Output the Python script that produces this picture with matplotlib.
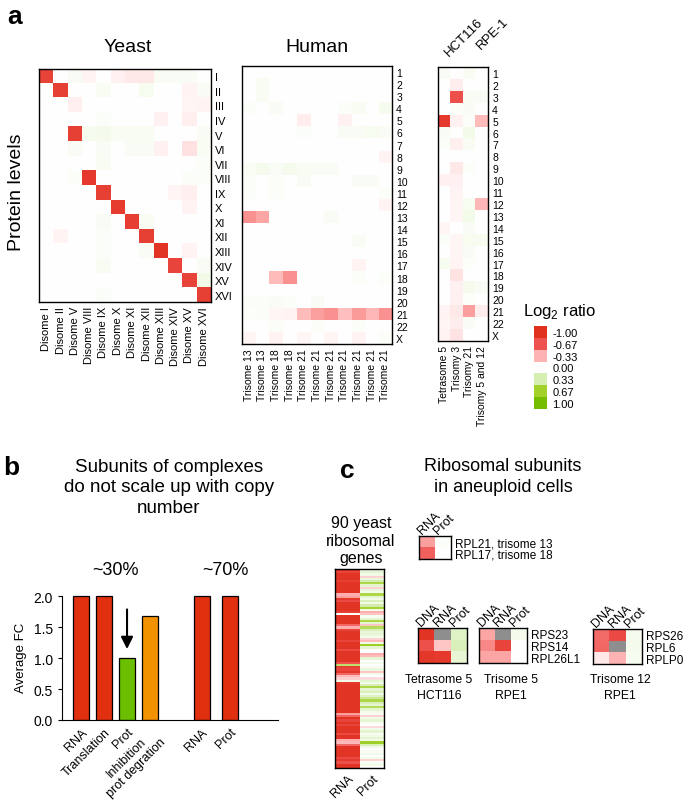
import numpy as np
import matplotlib
matplotlib.use('Agg')
import matplotlib.pyplot as plt
from matplotlib.colors import LinearSegmentedColormap, Normalize

plt.rcParams['font.family'] = ['Liberation Sans', 'DejaVu Sans']

W, H = 685, 803

def box(x0, y0, x1, y1):
    # pixel box (from top-left) -> figure fraction
    return [x0 / W, 1 - y1 / H, (x1 - x0) / W, (y1 - y0) / H]

def ftext(x, y, s, **kw):
    fig.text(x / W, 1 - y / H, s, **kw)

# colour scale (log2 ratio)
legend_vals = [-1.00, -0.67, -0.33, 0.00, 0.33, 0.67, 1.00]
legend_cols = ['#e0301e', '#ef5350', '#ffb4b4', '#ffffff', '#d6efb4', '#a4d22c', '#74bd00']
cmap = LinearSegmentedColormap.from_list(
    'log2', [((v + 1) / 2, c) for v, c in zip(legend_vals, legend_cols)])
cmap.set_bad('#8e8e8e')
norm = Normalize(-1, 1)

# ---- panel a: yeast
yeast_rows = ['I', 'II', 'III', 'IV', 'V', 'VI', 'VII', 'VIII', 'IX', 'X',
              'XI', 'XII', 'XIII', 'XIV', 'XV', 'XVI']
yeast_cols = ['Disome I', 'Disome II', 'Disome V', 'Disome VIII', 'Disome IX',
              'Disome X', 'Disome XI', 'Disome XII', 'Disome XIII', 'Disome XIV',
              'Disome XV', 'Disome XVI']
yeast_vals = [
    [-0.82, 0, 0.04, -0.05, 0, -0.06, -0.1, -0.1, 0.04, 0.04, 0.04, 0],
    [0, -0.85, 0, 0, 0.05, 0, 0, 0.06, 0, 0, -0.05, 0.04],
    [0, 0, -0.07, 0, 0, 0, 0, 0, 0, 0, -0.04, -0.05],
    [0, 0, 0, 0, 0.03, 0, 0, 0, -0.06, 0, -0.07, 0],
    [0, 0, -0.85, 0.07, 0.08, 0.05, 0.05, 0.05, 0, 0, 0, 0.04],
    [0, 0, 0.04, 0, 0.04, 0, 0.04, 0.04, -0.06, 0, -0.13, 0.05],
    [0, 0, 0, 0, 0.05, 0, 0, 0, 0, 0, 0, 0.03],
    [0, 0, 0.03, -0.9, 0, 0, 0, 0, 0, 0, 0.03, 0.03],
    [0, 0, 0, 0, -0.85, 0, 0, 0, 0, -0.04, -0.07, 0],
    [0, 0, 0, 0, 0, -0.88, 0, 0, 0, 0, -0.05, 0],
    [0, 0, 0, 0, 0.04, 0, -0.86, 0.05, 0, 0, 0, 0],
    [0, -0.05, 0, 0, 0.03, 0, 0, -0.85, 0, 0, 0, 0],
    [0, 0, 0, 0, 0.03, 0, 0, 0.04, -0.95, 0, -0.05, 0],
    [0, 0, 0, 0, 0.05, 0, 0, 0, 0, -0.8, 0, 0.04],
    [0, 0, 0, 0, 0, 0, 0, 0, 0, 0, -0.82, 0.1],
    [0, 0, 0, 0, 0.03, 0, 0, 0, 0, 0, 0, -0.85],
]

# ---- panel a: human
human_rows = [str(i) for i in range(1, 23)] + ['X']
human_cols = ['Trisome 13', 'Trisome 13', 'Trisome 18', 'Trisome 18'] + ['Trisome 21'] * 7
human_vals = [
    [0, 0, 0, 0, 0, 0, 0, 0, 0, 0, 0],
    [0, 0.05, 0, 0, 0, 0, 0, 0, 0, 0, 0],
    [0, 0.05, 0, 0, 0, 0, 0, 0, 0, 0, 0],
    [0.03, 0, 0.04, 0, 0, 0, 0, 0.03, 0.05, 0, 0.07],
    [0, 0, 0, 0, -0.08, 0, 0, -0.06, 0, 0, 0],
    [0, 0, 0, 0, 0.03, 0, 0, 0.04, 0.04, 0.06, 0.04],
    [0, 0, 0, 0, 0, 0, 0, 0, 0, 0, 0],
    [0, 0, 0, 0, 0, 0, 0, 0, 0, 0, -0.05],
    [0.05, 0.08, 0.04, 0.08, 0.05, 0.04, 0.04, 0, 0, 0, 0],
    [0.03, 0, 0.03, 0, 0.04, 0, 0, 0, 0.04, 0.04, 0],
    [0.03, 0, 0.03, 0, 0, 0, 0, 0, 0, 0, 0.03],
    [0, 0, 0, 0, 0, 0, 0, 0, 0, 0, -0.05],
    [-0.45, -0.38, 0, 0, 0, 0, 0.04, 0, 0, 0, 0],
    [0, 0, 0, 0, 0, 0, 0, 0, 0, 0, 0],
    [0, 0, 0, 0, 0, 0, 0, 0, 0.04, 0, 0],
    [0, 0, 0, 0, 0, 0, 0, 0, 0, 0, 0],
    [0, 0, 0, 0, 0, 0, 0, 0, -0.05, 0, 0],
    [0, 0, -0.3, -0.45, 0, 0, 0, 0, 0.03, 0, 0.03],
    [0, 0, 0, 0, 0, 0, 0, 0, 0, 0, 0],
    [0.03, 0.03, 0.04, 0.03, 0, 0.04, 0, 0, 0, 0, 0],
    [0.02, 0.03, -0.04, -0.05, -0.3, -0.4, -0.45, -0.28, -0.42, -0.32, -0.45],
    [0, 0, 0.03, 0, 0, 0.03, 0, 0, 0.03, 0, 0],
    [-0.04, 0, -0.05, 0, -0.04, 0, -0.04, 0, -0.05, 0, 0.03],
]

# ---- panel a: HCT116 / RPE-1
cell_cols = ['Tetrasome 5', 'Trisomy 3', 'Trisomy 21', 'Trisomy 5 and 12']
cell_vals = [
    [0.04, 0, 0.05, 0], [0, -0.08, 0, 0], [0, -0.7, 0.05, 0.04], [0, 0.03, 0.04, 0],
    [-0.9, -0.06, 0.03, -0.3], [0.04, 0, 0.1, 0], [0.03, -0.07, 0.05, 0], [0, 0, 0, 0],
    [0, -0.1, 0.03, 0], [-0.06, -0.06, 0, 0], [0, -0.05, 0, 0], [0, -0.04, 0.06, -0.32],
    [0, -0.04, 0.1, 0], [-0.04, 0, 0.04, 0], [0.03, -0.04, 0.06, 0.06], [0, -0.04, 0.04, 0],
    [0.06, -0.05, 0.02, 0], [0, -0.12, 0, 0], [0, -0.06, 0.08, 0.04], [0, -0.06, 0.02, 0],
    [-0.05, -0.1, -0.4, -0.08], [-0.04, -0.08, 0.04, 0], [-0.05, -0.12, 0, 0],
]

# ---- panel b
bar_labels = ['RNA', 'Translation', 'Prot', 'Inhibition\nprot degration', 'RNA', 'Prot']
bar_vals = [2.0, 2.0, 1.0, 1.68, 2.0, 2.0]
bar_cols = ['#e1300f', '#e1300f', '#6cbf00', '#f39200', '#e1300f', '#e1300f']
bar_pos = [0, 1, 2, 3, 5.25, 6.5]

# ---- panel c: 90 yeast ribosomal genes (RNA, Prot)
ribo_rna = [
    -0.95, -0.8, -0.95, -0.95, -0.95, -0.85, -0.95, -0.95, -0.95, -0.95,
    -0.95, -0.35, -0.4, -0.9, -0.75, -0.95, -0.95, -0.95, -0.95, -0.85,
    0.0, -0.95, -0.95, -0.95, -0.95, -0.6, -0.35, -0.8, -0.95, -0.95,
    -0.95, -0.95, -0.8, -0.95, -0.95, -0.95, -0.75, -0.95, -0.95, -0.95,
    -0.95, -0.95, -0.7, 0.5, -0.85, -0.8, -0.9, -0.6, -0.3, -0.2,
    0.1, -0.9, -0.95, -0.95, -0.95, -0.95, -0.95, -0.95, -0.95, -0.95,
    -0.95, -0.95, -0.95, -0.95, -0.95, -0.4, -0.6, -0.95, -0.8, -0.95,
    -0.8, -0.95, -0.95, -0.95, -0.75, -0.95, -0.95, -0.35, -0.3, -0.6,
    -0.95, -0.95, -0.95, -0.95, -0.95, -0.75, -0.9, -0.7, -0.95, -0.95,
]
ribo_prot = [
    0.1, 0.2, 0.1, -0.2, 0.15, 0.35, 0.6, 0.2, -0.2, 0.15,
    0.1, 0.6, 0.2, 0.1, 0.3, 0.1, 0.35, 0.65, 0.1, -0.35,
    -0.25, 0.05, 0.2, 0.6, 0.2, -0.25, 0.55, 0.3, 0.15, 0.2,
    0.1, -0.2, -0.3, 0.1, 0.7, 0.2, 0.0, 0.0, -0.35, -0.3,
    0.2, 0.0, 0.1, 0.0, 0.05, 0.15, -0.25, 0.1, 0.0, -0.15,
    0.2, 0.1, 0.3, 0.6, 0.2, 0.3, 0.1, 0.25, 0.4, 0.6,
    0.3, 0.2, 0.55, 0.2, 0.1, 0.05, -0.2, 0.1, 0.2, 0.05,
    0.0, -0.15, 0.1, 0.2, 0.05, 0.1, 0.2, 0.1, 0.7, 0.3,
    0.1, 0.0, 0.05, 0.1, 0.0, 0.1, -0.2, 0.05, 0.1, 0.0,
]

# small human heatmaps (nan = no data, grey)
rib1_rows = ['RPL21, trisome 13', 'RPL17, trisome 18']
rib1_cols = ['RNA', 'Prot']
rib1_vals = [[-0.4, 0.03], [-0.62, 0.0]]
dnp_cols = ['DNA', 'RNA', 'Prot']
tet5_vals = [[-0.95, np.nan, 0.25], [-0.7, -0.25, 0.3], [-0.92, -0.9, 0.18]]
tri5_rows = ['RPS23', 'RPS14', 'RPL26L1']
tri5_vals = [[-0.38, np.nan, 0.08], [-0.48, -0.8, 0.0], [-0.38, -0.38, 0.0]]
tri12_rows = ['RPS26', 'RPL6', 'RPLP0']
tri12_vals = [[-0.58, -0.75, 0.07], [-0.6, np.nan, 0.08], [-0.1, -0.33, 0.06]]


fig = plt.figure(figsize=(W / 100, H / 100), dpi=100)


def heat(rect, vals, rows=None, cols=None, col_rot=90, fs=8, lw=1.0):
    ax = fig.add_axes(rect)
    ax.imshow(np.array(vals, dtype=float), cmap=cmap, norm=norm,
              aspect='auto', interpolation='nearest')
    for s in ax.spines.values():
        s.set_linewidth(lw)
    ax.tick_params(length=0, labelsize=fs, pad=3)
    if rows is not None:
        ax.yaxis.tick_right()
        ax.set_yticks(range(len(rows)))
        ax.set_yticklabels(rows)
    else:
        ax.set_yticks([])
    if cols is not None:
        ax.set_xticks(range(len(cols)))
        ax.set_xticklabels(cols, rotation=col_rot)
    else:
        ax.set_xticks([])
    return ax


# panel a
ftext(7, 17, 'a', fontsize=19, fontweight='bold', va='center')
ax_y = heat(box(39, 70, 211, 303), yeast_vals, yeast_rows, yeast_cols, fs=8)
ftext(128, 47, 'Yeast', fontsize=14, ha='center', va='center')
ftext(17, 192, 'Protein levels', fontsize=14, rotation=90, ha='center', va='center')

ax_h = heat(box(242, 67, 392, 345), human_vals, human_rows, human_cols, fs=7.5)
ftext(317, 47, 'Human', fontsize=14, ha='center', va='center')

ax_c = heat(box(438, 68, 488, 342), cell_vals, human_rows, cell_cols, fs=7.5)
ax_c.text(0.35, -1.4, 'HCT116', rotation=45, rotation_mode='anchor',
          ha='left', va='baseline', fontsize=9.5)
ax_c.text(2.95, -2.0, 'RPE-1', rotation=45, rotation_mode='anchor',
          ha='left', va='baseline', fontsize=9.5)

ax_l = fig.add_axes(box(534, 327, 547, 410))
ax_l.imshow(np.array(legend_vals).reshape(-1, 1), cmap=cmap, norm=norm,
            aspect='auto', interpolation='nearest')
for s in ax_l.spines.values():
    s.set_visible(False)
ax_l.set_xticks([])
ax_l.yaxis.tick_right()
ax_l.set_yticks(range(len(legend_vals)))
ax_l.set_yticklabels(['%.2f' % v for v in legend_vals])
ax_l.tick_params(length=0, labelsize=8, pad=4)
ftext(523, 312, 'Log$_\\mathregular{2}$ ratio', fontsize=12, va='center')

# panel b
ftext(3, 468, 'b', fontsize=19, fontweight='bold', va='center')
ftext(169, 488, 'Subunits of complexes\ndo not scale up with copy\nnumber',
      fontsize=13.5, ha='center', va='center', linespacing=1.3)
ax_b = fig.add_axes(box(62, 594, 278, 721))
ax_b.bar(bar_pos, bar_vals, width=0.7, color=bar_cols, edgecolor='black', linewidth=0.9)
ax_b.set_xlim(-0.83, 8.57)
ax_b.set_ylim(0, 2.05)
ax_b.spines['top'].set_visible(False)
ax_b.spines['right'].set_visible(False)
ax_b.spines['left'].set_bounds(0, 2.0)
ax_b.set_yticks([0, 0.5, 1.0, 1.5, 2.0])
ax_b.set_yticklabels(['0.0', '0.5', '1.0', '1.5', '2.0'])
ax_b.tick_params(axis='y', labelsize=10, length=3)
ax_b.set_xticks(bar_pos)
ax_b.set_xticklabels(bar_labels, rotation=45, ha='right', rotation_mode='anchor',
                     fontsize=9, multialignment='center')
ax_b.tick_params(axis='x', length=0, pad=4)
ax_b.set_ylabel('Average FC', fontsize=9.5, labelpad=5)
ax_b.annotate('', xy=(2, 1.1), xytext=(2, 1.83),
              arrowprops=dict(arrowstyle='-|>', color='black', lw=1.5, mutation_scale=18))
ax_b.text(1.5, 2.43, '~30%', fontsize=13, ha='center', va='center', clip_on=False)
ax_b.text(6.3, 2.43, '~70%', fontsize=13, ha='center', va='center', clip_on=False)

# panel c
ftext(340, 471, 'c', fontsize=19, fontweight='bold', va='center')
ftext(503, 477, 'Ribosomal subunits\nin aneuploid cells',
      fontsize=13, ha='center', va='center', linespacing=1.3)

ax_r = heat(box(335, 570, 384, 769), np.column_stack([ribo_rna, ribo_prot]),
            None, ['RNA', 'Prot'], col_rot=45, fs=9)
for t in ax_r.get_xticklabels():
    t.set_ha('right')
    t.set_rotation_mode('anchor')
ftext(361, 541, '90 yeast\nribosomal\ngenes', fontsize=11.5, ha='center', va='center',
      linespacing=1.2)


def top_labels(ax, cols):
    for j, c in enumerate(cols):
        ax.text(j - 0.3, -0.65, c, rotation=45, rotation_mode='anchor',
                ha='left', va='baseline', fontsize=9)


ax1 = heat(box(419, 537, 451, 560), rib1_vals, rib1_rows, None, fs=8.5)
top_labels(ax1, rib1_cols)

ax2 = heat(box(418, 629, 467, 664), tet5_vals, None, None)
top_labels(ax2, dnp_cols)
ftext(439, 688, 'Tetrasome 5\nHCT116', fontsize=8.8, ha='center', va='center',
      linespacing=1.35)

ax3 = heat(box(479, 629, 527, 664), tri5_vals, tri5_rows, None, fs=8.5)
top_labels(ax3, dnp_cols)
ftext(511, 688, 'Trisome 5\nRPE1', fontsize=8.8, ha='center', va='center',
      linespacing=1.35)

ax4 = heat(box(593, 630, 642, 665), tri12_vals, tri12_rows, None, fs=8.5)
top_labels(ax4, dnp_cols)
ftext(620, 688, 'Trisome 12\nRPE1', fontsize=8.8, ha='center', va='center',
      linespacing=1.35)

fig.savefig('out.png', dpi=100)
